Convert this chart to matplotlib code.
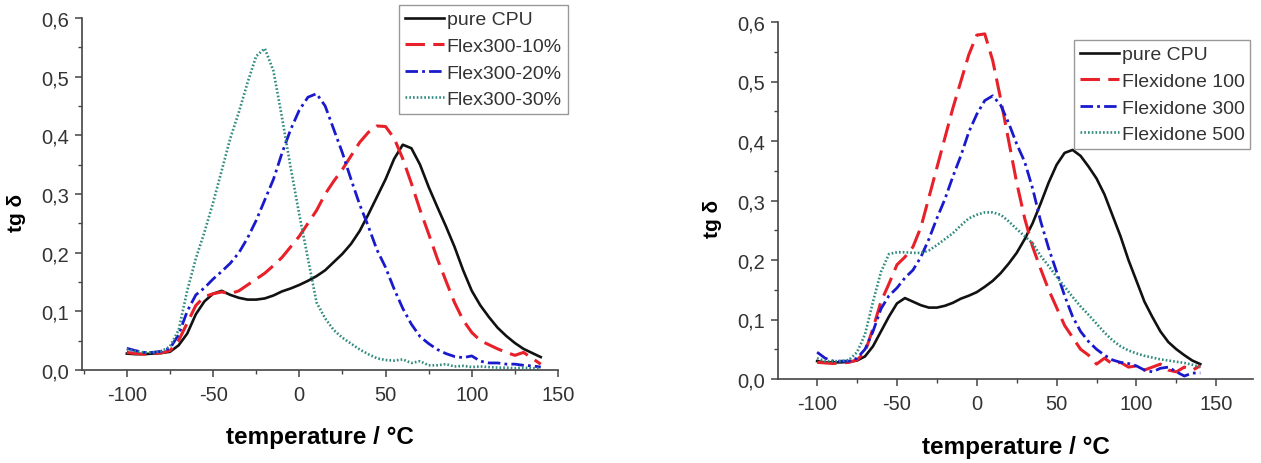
import matplotlib
matplotlib.use("Agg")
import matplotlib.pyplot as plt
from matplotlib.ticker import MultipleLocator, FuncFormatter

plt.rcParams['font.family'] = ['Liberation Sans', 'DejaVu Sans']
plt.rcParams['lines.scale_dashes'] = False

# temperature grid (°C)
temperature = list(range(-100, 145, 5))

# ---- left panel: Flex300 content ----
cpu_left = [0.028, 0.027, 0.027, 0.028, 0.029, 0.031, 0.042, 0.062, 0.095, 0.117,
            0.130, 0.135, 0.128, 0.123, 0.120, 0.120, 0.122, 0.127, 0.134, 0.139,
            0.145, 0.152, 0.160, 0.170, 0.184, 0.198, 0.215, 0.237, 0.265, 0.295,
            0.325, 0.360, 0.384, 0.378, 0.350, 0.312, 0.278, 0.245, 0.210, 0.170,
            0.135, 0.110, 0.090, 0.072, 0.058, 0.046, 0.036, 0.029, 0.022]
flex10 = [0.030, 0.028, 0.027, 0.028, 0.029, 0.033, 0.050, 0.080, 0.110, 0.125,
          0.130, 0.133, 0.130, 0.135, 0.145, 0.155, 0.165, 0.178, 0.192, 0.210,
          0.228, 0.250, 0.272, 0.300, 0.322, 0.342, 0.365, 0.388, 0.405, 0.416,
          0.415, 0.395, 0.360, 0.318, 0.273, 0.232, 0.190, 0.152, 0.115, 0.085,
          0.064, 0.050, 0.043, 0.036, 0.030, 0.025, 0.030, 0.020, 0.010]
flex20 = [0.037, 0.033, 0.030, 0.030, 0.032, 0.037, 0.060, 0.100, 0.128, 0.140,
          0.155, 0.168, 0.182, 0.200, 0.225, 0.255, 0.290, 0.325, 0.370, 0.410,
          0.443, 0.465, 0.471, 0.450, 0.410, 0.370, 0.325, 0.282, 0.245, 0.205,
          0.175, 0.138, 0.105, 0.078, 0.057, 0.045, 0.035, 0.028, 0.023, 0.021,
          0.024, 0.015, 0.012, 0.012, 0.010, 0.010, 0.008, 0.007, 0.005]
flex30 = [0.035, 0.032, 0.030, 0.030, 0.032, 0.040, 0.068, 0.135, 0.190, 0.235,
          0.285, 0.340, 0.395, 0.440, 0.490, 0.535, 0.548, 0.510, 0.430, 0.345,
          0.265, 0.190, 0.115, 0.088, 0.068, 0.055, 0.045, 0.035, 0.027, 0.020,
          0.017, 0.016, 0.018, 0.012, 0.015, 0.008, 0.008, 0.010, 0.006, 0.007,
          0.005, 0.006, 0.005, 0.004, 0.004, 0.003, 0.004, 0.003, 0.003]

# ---- right panel: Flexidone grades ----
cpu_right = [0.030, 0.028, 0.028, 0.028, 0.029, 0.031, 0.038, 0.055, 0.080, 0.105,
             0.127, 0.136, 0.130, 0.124, 0.120, 0.120, 0.123, 0.128, 0.135, 0.140,
             0.146, 0.155, 0.165, 0.178, 0.194, 0.212, 0.235, 0.262, 0.295, 0.330,
             0.360, 0.380, 0.385, 0.375, 0.357, 0.337, 0.310, 0.275, 0.240, 0.200,
             0.165, 0.130, 0.104, 0.080, 0.062, 0.050, 0.040, 0.031, 0.025]
flexidone100 = [0.028, 0.027, 0.026, 0.027, 0.028, 0.032, 0.045, 0.085, 0.130, 0.160,
                0.192, 0.205, 0.222, 0.255, 0.305, 0.355, 0.405, 0.455, 0.500, 0.545,
                0.578, 0.580, 0.535, 0.470, 0.400, 0.330, 0.270, 0.222, 0.185, 0.150,
                0.120, 0.090, 0.070, 0.050, 0.040, 0.025, 0.035, 0.025, 0.028, 0.020,
                0.022, 0.015, 0.020, 0.025, 0.015, 0.012, 0.020, 0.015, 0.022]
flexidone300 = [0.045, 0.035, 0.030, 0.030, 0.030, 0.035, 0.050, 0.080, 0.118, 0.140,
                0.153, 0.170, 0.183, 0.205, 0.235, 0.270, 0.302, 0.340, 0.375, 0.415,
                0.445, 0.468, 0.476, 0.460, 0.430, 0.395, 0.365, 0.320, 0.265, 0.220,
                0.180, 0.140, 0.105, 0.080, 0.063, 0.050, 0.040, 0.032, 0.028, 0.026,
                0.022, 0.015, 0.012, 0.018, 0.020, 0.012, 0.005, 0.010, 0.010]
flexidone500 = [0.035, 0.030, 0.030, 0.030, 0.032, 0.045, 0.075, 0.130, 0.180, 0.210,
                0.213, 0.213, 0.212, 0.212, 0.216, 0.225, 0.235, 0.245, 0.258, 0.270,
                0.276, 0.280, 0.280, 0.276, 0.265, 0.252, 0.240, 0.228, 0.207, 0.190,
                0.172, 0.155, 0.138, 0.122, 0.108, 0.093, 0.078, 0.065, 0.055, 0.048,
                0.043, 0.039, 0.036, 0.033, 0.031, 0.029, 0.027, 0.024, 0.020]

labels_left = ["pure CPU", "Flex300-10%", "Flex300-20%", "Flex300-30%"]
labels_right = ["pure CPU", "Flexidone 100", "Flexidone 300", "Flexidone 500"]
x_ticks = [-100, -50, 0, 50, 100, 150]
y_ticks = [0.0, 0.1, 0.2, 0.3, 0.4, 0.5, 0.6]

styles = [
    dict(color='#111111', lw=1.9, ls='-'),
    dict(color='#e8202a', lw=2.2, ls=(0, (14, 6))),
    dict(color='#1a1acd', lw=2.0, ls=(0, (9, 3, 2, 3))),
    dict(color='#2e8b7e', lw=1.9, ls=(0, (1.2, 1.5))),
]

W, H = 1261, 464
fig = plt.figure(figsize=(W / 100, H / 100), dpi=100)

def px_axes(l, r, t, b):
    return fig.add_axes([l / W, (H - b) / H, (r - l) / W, (b - t) / H])

ax1 = px_axes(82, 558, 19, 371)
ax2 = px_axes(778, 1253, 23, 380)

def style_axes(ax, xlim):
    ax.set_xlim(*xlim)
    ax.set_ylim(0, 0.6)
    for s in ['top', 'right']:
        ax.spines[s].set_visible(False)
    for s in ['left', 'bottom']:
        ax.spines[s].set_color('#444444')
        ax.spines[s].set_linewidth(1.2)
    ax.set_xticks(x_ticks)
    ax.set_yticks(y_ticks)
    ax.xaxis.set_minor_locator(MultipleLocator(25))
    ax.yaxis.set_minor_locator(MultipleLocator(0.05))
    ax.yaxis.set_major_formatter(FuncFormatter(lambda v, p: f"{v:.1f}".replace('.', ',')))
    ax.xaxis.set_major_formatter(FuncFormatter(lambda v, p: f"{int(round(v))}"))
    ax.tick_params(which='major', direction='out', length=5, width=1.1,
                   color='#444444', labelsize=14.5, labelcolor='#333333')
    ax.tick_params(axis='x', which='major', pad=6)
    ax.tick_params(axis='y', which='major', pad=4)
    ax.tick_params(which='minor', direction='out', length=3, width=1.0, color='#444444')
    ax.set_xlabel("temperature / °C", fontsize=17.5, fontweight='bold')
    ax.set_ylabel("tg δ", fontsize=15, fontweight='bold')
    ax.xaxis.set_label_coords(0.5, -0.19)
    ax.xaxis.label.set_va('center')
    ax.yaxis.set_label_coords(-0.137, 0.45)
    ax.yaxis.label.set_va('center')

def draw(ax, series, labels, legend_box):
    for ys, lab, st in zip(series, labels, styles):
        ax.plot(temperature, ys, color=st['color'], lw=st['lw'], linestyle=st['ls'],
                label=lab, clip_on=False)
    l, t = legend_box
    leg = ax.legend(loc='upper left',
                    bbox_to_anchor=(l / W, (H - t) / H),
                    bbox_transform=fig.transFigure,
                    fontsize=14, frameon=True, fancybox=False, framealpha=1,
                    edgecolor='#999999', handlelength=2.0, handletextpad=0.15,
                    borderpad=0.3, labelspacing=0.46, borderaxespad=0)
    leg.get_frame().set_linewidth(1.0)
    for txt in leg.get_texts():
        txt.set_color('#333333')

style_axes(ax1, (-126, 150))
style_axes(ax2, (-124.5, 173))
draw(ax1, [cpu_left, flex10, flex20, flex30], labels_left, (399, 6))
draw(ax2, [cpu_right, flexidone100, flexidone300, flexidone500], labels_right, (1074, 41))

fig.savefig("out.png", dpi=100)
